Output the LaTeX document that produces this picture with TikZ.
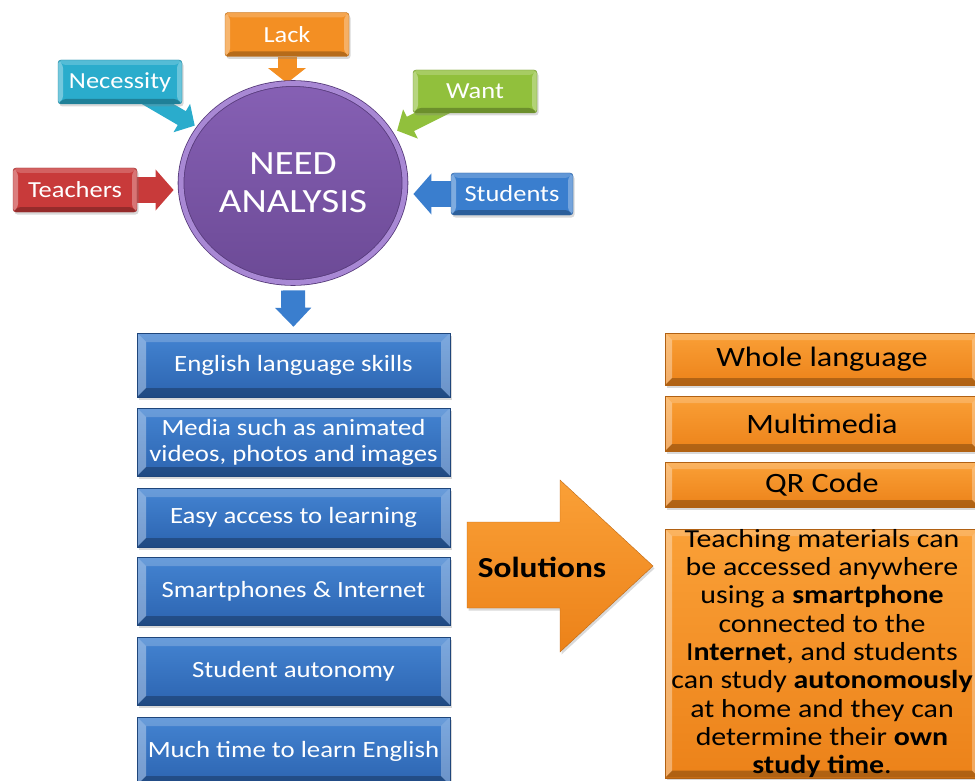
\documentclass[tikz,border=0pt]{standalone}
\usepackage{fontspec}
\setmainfont{Carlito}[FakeStretch=1.15]
\usetikzlibrary{arrows.meta,shapes.geometric,shadows,backgrounds}

\definecolor{needtop}{RGB}{134,96,180}
\definecolor{needbot}{RGB}{108,74,150}
\definecolor{needrim}{RGB}{168,136,212}
\definecolor{needdark}{RGB}{86,58,122}
\definecolor{lackorange}{RGB}{243,143,35}
\definecolor{neccyan}{RGB}{42,172,204}
\definecolor{wantgreen}{RGB}{145,192,60}
\definecolor{teachred}{RGB}{200,58,58}
\definecolor{studblue}{RGB}{58,126,206}
\definecolor{skilltop}{RGB}{68,132,210}
\definecolor{skillbot}{RGB}{44,100,176}
\definecolor{soltop}{RGB}{250,160,55}
\definecolor{solbot}{RGB}{236,130,25}

\begin{document}
\begin{tikzpicture}[
    x=1pt, y=-1pt,
    bevel/.style={path picture={
        \fill[white, opacity=.35] (path picture bounding box.north west) -- ([shift={(#1,-#1)}]path picture bounding box.north west)
            -- ([shift={(#1,#1)}]path picture bounding box.south west) -- (path picture bounding box.south west) -- cycle;
        \fill[white, opacity=.2] (path picture bounding box.north west) -- (path picture bounding box.north east)
            -- ([shift={(-#1,-#1)}]path picture bounding box.north east) -- ([shift={(#1,-#1)}]path picture bounding box.north west) -- cycle;
        \fill[white, opacity=.3] (path picture bounding box.north east) -- (path picture bounding box.south east)
            -- ([shift={(-#1,#1)}]path picture bounding box.south east) -- ([shift={(-#1,-#1)}]path picture bounding box.north east) -- cycle;
        \fill[black, opacity=.25] (path picture bounding box.south west) -- (path picture bounding box.south east)
            -- ([shift={(-#1,#1)}]path picture bounding box.south east) -- ([shift={(#1,#1)}]path picture bounding box.south west) -- cycle;
    }},
    bevel/.default=5pt,
    soft shadow/.style={drop shadow={opacity=.3, shadow xshift=1.5pt, shadow yshift=-2.5pt}},
    label box/.style={rectangle, rounded corners=3pt, minimum width=124pt, minimum height=44pt, inner sep=0pt,
        text=white, font=\fontsize{23}{26}\selectfont, soft shadow, bevel},
    need node/.style={ellipse, minimum width=224pt, minimum height=199pt, inner sep=0pt,
        top color=needtop, bottom color=needbot, draw=needdark, double=needrim, double distance=5pt, line width=.8pt,
        text=white, align=center, font=\fontsize{34}{38}\selectfont, soft shadow},
    skill box/.style={rectangle, minimum width=313pt, inner sep=0pt, top color=skilltop, bottom color=skillbot,
        draw=skillbot!70!black, text=white, align=center, font=\fontsize{23.3}{26}\selectfont, soft shadow, bevel=9pt},
    sol box/.style={rectangle, minimum width=314pt, inner sep=0pt, top color=soltop, bottom color=solbot,
        draw=solbot!75!black, text=black, font=\fontsize{28}{31}\selectfont, soft shadow, bevel=7pt},
    sol arrow/.style={top color=soltop, bottom color=solbot, draw=solbot!80!black, soft shadow},
    side arrow/.style={line width=25pt, -{Triangle[width=40pt, length=18pt]}},
    callout arrow/.style={line width=16pt, -{Triangle[width=32pt, length=15pt]}},
    lack arrow/.style={line width=19pt, -{Triangle[width=37pt, length=15pt]}},
    down arrow/.style={line width=24pt, -{Triangle[width=35pt, length=19pt]}}
]

\useasboundingbox (0, 0) rectangle (975, 781);
\clip (0, 0) rectangle (975, 781);

% Nodes
\node[need node] at (293, 183) (need) {NEED\\ANALYSIS};

\node[label box, fill=lackorange, draw=lackorange!75!black] at (287, 34.5) (lack) {Lack};
\node[label box, fill=neccyan, draw=neccyan!75!black] at (120, 82) (nec) {Necessity};
\node[label box, fill=wantgreen, draw=wantgreen!75!black, minimum height=43pt] at (475, 91.5) (want) {Want};
\node[label box, fill=teachred, draw=teachred!75!black] at (75, 190) (teach) {Teachers};
\node[label box, fill=studblue, draw=studblue!75!black, minimum width=122pt, minimum height=42pt] at (512, 194) (stud) {Students};

% Needs found
\node[skill box, minimum height=64pt] at (293.5, 365) (sk1) {English language skills};
\node[skill box, minimum height=68pt] at (293.5, 442) (sk2) {Media such as animated\\videos, photos and images};
\node[skill box, minimum height=59pt] at (293.5, 517.5) (sk3) {Easy access to learning};
\node[skill box, minimum height=68pt] at (293.5, 591) (sk4) {Smartphones \& Internet};
\node[skill box, minimum height=68pt] at (293.5, 671) (sk5) {Student autonomy};
\node[skill box, minimum height=68pt] at (293.5, 751) (sk6) {Much time to learn English};

% Solutions
\path[sol arrow] (467, 522) -- (560, 522) -- (560, 480) -- (653, 566) -- (560, 652) -- (560, 608) -- (467, 608) -- cycle;
\node[font=\bfseries\fontsize{29}{32}\selectfont] at (542, 567) (sol) {Solutions};

\node[sol box, minimum height=52pt] at (822, 359) (wl) {Whole language};
\node[sol box, minimum height=55pt] at (822, 423.5) (mm) {Multimedia};
\node[sol box, minimum height=45pt] at (822, 484.5) (qr) {QR Code};
\node[sol box, anchor=north, align=center, font=\fontsize{26}{28.3}\selectfont] at (822, 529) (note) {%
    Teaching materials can\\
    be accessed anywhere\\
    using a \textbf{smartphone}\\
    connected to the\\
    I\textbf{nternet}, and students\\
    can study \textbf{autonomously}\\
    at home and they can\\
    determine their \textbf{own}\\
    \textbf{study time}.};

% Edges into the need analysis
\begin{scope}[on background layer]
\draw[lack arrow, lackorange] (lack.south) -- (lack.south |- need.north);
\draw[callout arrow, neccyan, shorten >=5pt] (nec.center) -- (need);
\draw[callout arrow, wantgreen, shorten >=7pt] (want.center) -- (need);
\draw[side arrow, teachred, shorten >=7pt] (teach.east) -- (teach.east -| need.west);
\draw[side arrow, studblue, shorten >=8pt] (stud.west) -- (stud.west -| need.east);
\end{scope}

% Edge to the needs found
\draw[down arrow, studblue, shorten <=7.5pt, shorten >=6pt] (need.south) -- (sk1.north);

\end{tikzpicture}
\end{document}
